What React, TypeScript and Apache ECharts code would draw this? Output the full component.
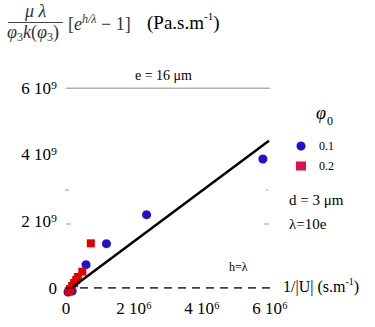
import React, { useEffect, useRef } from "react";
import * as echarts from "echarts";

// Data (x in s.m^-1, y in Pa.s.m^-1)
const blueX = [5.79e6, 2.37e6, 1.19e6, 0.59e6, 0.06e6, 0.18e6, 0.1e6];
const blueY = [3.87e9, 2.2e9, 1.33e9, 0.7e9, -0.12e9, -0.09e9, -0.05e9];
const redX = [0.73e6, 0.48e6, 0.35e6, 0.3e6, 0.24e6, 0.18e6, 0.12e6, 0.08e6];
const redY = [1.34e9, 0.49e9, 0.33e9, 0.24e9, 0.15e9, 0.06e9, -0.03e9, -0.1e9];
const fitX = [0.2e6, 5.97e6];
const fitY = [0.03e9, 4.42e9];
const refLineY = [0, 6e9];
const refLineX = [0, 6e6];
const seriesNames = ["0.1", "0.2"];

const SERIF = "Liberation Serif";

const tok = (size: number, extra: any = {}) => ({
  fontFamily: SERIF,
  fontSize: size,
  color: extra.color || "#000",
  fill: extra.color || "#000",
  ...extra,
});

export default function App() {
  const ref = useRef<HTMLDivElement>(null);
  useEffect(() => {
    if (!ref.current) return;
    const chart = echarts.init(ref.current, undefined, { renderer: "svg" });
    const fmt = (exp: string, unit: number) => (v: number) =>
      v === 0 ? "0" : `${Math.round(v / unit)} 10${exp}`;
    const g = "#333";
    const fracRich = {
      i: tok(18, { fontStyle: "italic", color: g, lineHeight: 22 }),
      n: tok(18, { color: g, lineHeight: 22 }),
      sub: tok(12, { color: g, lineHeight: 10, verticalAlign: "bottom" }),
      sup: tok(12, { fontStyle: "italic", color: g, lineHeight: 10, verticalAlign: "top" }),
    };
    const unitRich = {
      a: tok(19, { lineHeight: 24 }),
      s: tok(11, { lineHeight: 12, verticalAlign: "top" }),
    };
    const unitRich2 = {
      a: tok(16, { lineHeight: 20 }),
      s: tok(10, { lineHeight: 10, verticalAlign: "top" }),
    };
    chart.setOption({
      animation: false,
      textStyle: { fontFamily: SERIF },
      grid: { left: 66, right: 105, top: 88, bottom: 39, containLabel: false },
      xAxis: {
        type: "value",
        min: 0,
        max: 6e6,
        interval: 2e6,
        axisLine: { show: false },
        axisTick: { show: false },
        splitLine: { show: false },
        axisLabel: { formatter: fmt("⁶", 1e6), margin: 12, fontFamily: SERIF, fontSize: 17, color: "#000" },
      },
      yAxis: {
        type: "value",
        min: 0,
        max: 6e9,
        interval: 2e9,
        axisLine: { show: false },
        axisTick: { show: false },
        splitLine: { show: false },
        axisLabel: { formatter: fmt("⁹", 1e9), margin: 9, fontFamily: SERIF, fontSize: 17, color: "#000" },
      },
      legend: {
        orient: "vertical",
        left: 291,
        top: 135,
        itemGap: 8,
        itemWidth: 10,
        itemHeight: 9,
        textStyle: { fontFamily: SERIF, fontSize: 12, color: "#000", padding: [0, 0, 0, 8] },
        data: [
          { name: seriesNames[0], icon: "circle" },
          { name: seriesNames[1], icon: "rect", itemStyle: { color: "#dd1155" } },
        ],
      },
      series: [
        {
          type: "line",
          data: refLineX.map((x) => [x, refLineY[1]]),
          symbol: "none",
          lineStyle: { color: "#666", width: 1 },
          silent: true,
        },
        {
          type: "line",
          data: refLineX.map((x) => [x, refLineY[0]]),
          symbol: "none",
          lineStyle: { color: "#000", width: 1.5, type: [8, 6] },
          silent: true,
        },
        {
          type: "line",
          data: fitX.map((x, i) => [x, fitY[i]]),
          symbol: "none",
          lineStyle: { color: "#000", width: 2.5 },
          silent: true,
        },
        {
          name: seriesNames[0],
          type: "scatter",
          clip: false,
          symbol: "circle",
          symbolSize: 9,
          itemStyle: { color: "#2010d0", opacity: 1 },
          data: blueX.map((x, i) => [x, blueY[i]]),
        },
        {
          name: seriesNames[1],
          type: "scatter",
          clip: false,
          symbol: "rect",
          symbolSize: 8,
          itemStyle: { color: "#e20000", opacity: 1 },
          data: redX.map((x, i) => [x, redY[i]]),
        },
      ],
      graphic: [
        // title formula
        { type: "text", left: 25, top: 2, style: { text: "{i|μ} {i|λ}", rich: fracRich, fontFamily: SERIF, fontSize: 18 } },
        { type: "line", shape: { x1: 8, y1: 22.5, x2: 63, y2: 22.5 }, style: { stroke: "#444", lineWidth: 1 } },
        { type: "text", left: 7, top: 23, style: { text: "{i|φ}{sub|3}{i|k}{n|(}{i|φ}{sub|3}{n|)}", rich: fracRich, fontFamily: SERIF, fontSize: 18 } },
        { type: "text", left: 68, top: 13, style: { text: "{n|[}{i|e}{sup|h/λ}{n| − 1]}", rich: fracRich, fontFamily: SERIF, fontSize: 18 } },
        { type: "text", left: 147, top: 10, style: { text: "{a|(Pa.s.m}{s|-1}{a|)}", rich: unitRich, fontFamily: SERIF, fontSize: 19 } },
        // annotations
        { type: "text", left: 135, top: 68, style: { text: "e = 16 μm", fontFamily: SERIF, fontSize: 14, fill: "#000" } },
        { type: "text", left: 316, top: 104, style: { text: "φ", fontFamily: SERIF, fontSize: 18, fontStyle: "italic", fill: "#000" } },
        { type: "text", left: 327, top: 115, style: { text: "0", fontFamily: SERIF, fontSize: 12, fill: "#000" } },
        { type: "text", left: 289, top: 192, style: { text: "d = 3 μm", fontFamily: SERIF, fontSize: 15, fill: "#000" } },
        { type: "text", left: 289, top: 216, style: { text: "λ=10e", fontFamily: SERIF, fontSize: 15, fill: "#000" } },
        { type: "text", left: 229, top: 261, style: { text: "h=λ", fontFamily: SERIF, fontSize: 12, fill: "#000" } },
        { type: "text", left: 283, top: 276, style: { text: "{a|1/|U| (s.m}{s|-1}{a|)}", rich: unitRich2, fontFamily: SERIF, fontSize: 16 } },
        // faint tick fragments
        { type: "line", shape: { x1: 65, y1: 190, x2: 69, y2: 190 }, style: { stroke: "#999", lineWidth: 1 } },
        { type: "line", shape: { x1: 66, y1: 224, x2: 71, y2: 224 }, style: { stroke: "#999", lineWidth: 1 } },
        { type: "line", shape: { x1: 266, y1: 190, x2: 268, y2: 190 }, style: { stroke: "#999", lineWidth: 1 } },
        { type: "line", shape: { x1: 264, y1: 224, x2: 269, y2: 224 }, style: { stroke: "#999", lineWidth: 1 } },
      ],
    });
    return () => chart.dispose();
  }, []);
  return <div ref={ref} style={{ width: 375, height: 327, position: "absolute", left: 0, top: 0 }} />;
}
